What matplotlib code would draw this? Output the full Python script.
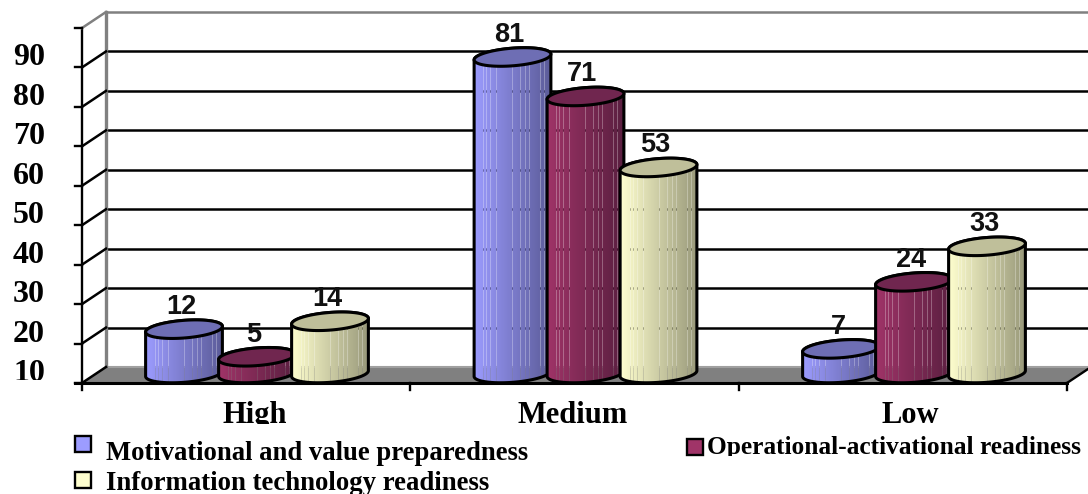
import matplotlib
matplotlib.use('Agg')
import matplotlib.pyplot as plt
import numpy as np
from matplotlib.colors import to_rgb
from matplotlib.patches import Polygon, Rectangle
from matplotlib.transforms import Bbox

categories = ['High', 'Medium', 'Low']
series_names = ['Motivational and value preparedness',
                'Operational-activational readiness',
                'Information technology readiness']
motivational = [12, 81, 7]
operational = [5, 71, 24]
information = [14, 53, 33]
axis_ticks = [0, 10, 20, 30, 40, 50, 60, 70, 80, 90]
tick_labels = ['10', '20', '30', '40', '50', '60', '70', '80', '90']

W, H = 1088, 494
SERIF = 'Liberation Serif'
SANS = 'Liberation Sans'

# scale: pixels per value unit and per category, zero line and first category
PX_Y = 355 / 90
PX_X = 328.5
Y0 = 383
X0 = 257

# colours per series: left of the body, right of the body, top cap
colors = [('#9c9cff', '#5c5c99', '#6e6eb4'),
          ('#a03468', '#5a1f40', '#70264f'),
          ('#ffffcf', '#99997a', '#bfbf9a')]
stripes = [.13, .17, .22, .30, .50, .61, .67, .73, .86, .92]

fig = plt.figure(figsize=(W / 100, H / 100), dpi=100)
ax = fig.add_axes([0, 0, 1, 1])
ax.set_xlim(-X0 / PX_X, (W - X0) / PX_X)
ax.set_ylim((Y0 - H) / PX_Y, Y0 / PX_Y)
ax.axis('off')


def dx(px):
    return px / PX_X


def dy(px):
    return px / PX_Y


def clip_below(txt, py):
    # cut a label off at a horizontal pixel row
    txt.set_clip_box(Bbox([[0, H - py], [W, H]]))
    txt.set_clip_on(True)


# front axis, back wall and floor
x_front = dx(82 - X0)
x_wall = dx(106 - X0)
x_end = dx(1067 - X0)
x_over = dx(1091 - X0)
depth = dy(16)
top = axis_ticks[-1]
ax.add_patch(Polygon([(x_front, 0), (x_wall, depth), (x_over, depth), (x_end, 0)],
                     closed=True, fc='#808080', ec='none', zorder=1))
ax.plot([x_wall, x_over], [depth, depth], color='#a0a0a0', lw=1.5, zorder=1)
ax.plot([x_wall, x_wall], [depth, top + depth], color='#808080', lw=2.4, zorder=1.5)
ax.plot([x_front, x_front], [0, top], color='black', lw=1.7, zorder=2)
for t in axis_ticks:
    c = '#808080' if t == top else 'black'
    if t > 0:
        ax.plot([x_wall, x_over], [t + depth, t + depth], color=c, lw=1.8, zorder=1)
    ax.plot([x_front, x_wall], [t, t + depth], color=c, lw=1.8, zorder=2)
    ax.plot([x_front - dx(7), x_front], [t, t], color='black', lw=1.7, zorder=2)
ax.plot([x_front - dx(7), x_end], [0, 0], color='black', lw=2.2, zorder=6)
ax.plot([x_end, x_over], [0, depth], color='black', lw=1.7, zorder=2)
for i in range(4):
    x = x_front + i * (x_end - x_front) / 3
    ax.plot([x, x], [0, -dy(7)], color='black', lw=1.7, zorder=2)

for t, lab in zip(axis_ticks, tick_labels):
    txt = ax.text(dx(45 - X0), t + dy(9.5), lab, family=SERIF, weight='bold', fontsize=23,
                  ha='right', va='center', zorder=8)
    if lab == '10':
        clip_below(txt, 380)


def ellipse(xc, yc, t):
    # tilted cap outline, returned in data units
    a, b, tilt = 38.5, 8.8, np.radians(4.5)
    ex = a * np.cos(t) * np.cos(tilt) - b * np.sin(t) * np.sin(tilt)
    ey = a * np.cos(t) * np.sin(tilt) + b * np.sin(t) * np.cos(tilt)
    return xc + dx(ex), yc + dy(ey)


def body_image(left, right):
    # horizontal shading; the stripe columns are partly see-through
    n = 78
    c1, c2 = np.array(to_rgb(left)), np.array(to_rgb(right))
    f = np.linspace(0, 1, n)[:, None]
    rgba = np.ones((1, n, 4))
    rgba[0, :, :3] = c1 * (1 - f) + c2 * f
    for s in stripes:
        rgba[0, int(s * n), 3] = 0.72
    return rgba


def cylinder(xc, value, cols, z):
    left, right, cap = cols
    cap_y = value + dy(6.5)
    base = dy(9.5)
    t_top = np.linspace(0, np.pi, 60)
    t_low = np.linspace(np.pi, 2 * np.pi, 60)
    xb, yb = ellipse(xc, base, t_low)
    xt, yt = ellipse(xc, cap_y, t_top)
    outline = np.column_stack([np.r_[xb, xt], np.r_[yb, yt]])
    body = Polygon(outline, closed=True, fc='none', ec='black', lw=2.2, zorder=z + 0.2)
    ax.add_patch(body)
    im = ax.imshow(body_image(left, right), aspect='auto', interpolation='nearest',
                   extent=[xc - dx(39), xc + dx(39), base - dy(10), cap_y + dy(10)], zorder=z)
    im.set_clip_path(body)
    tt = np.linspace(0, 2 * np.pi, 120)
    xe, ye = ellipse(xc, cap_y, tt)
    ax.add_patch(Polygon(np.column_stack([xe, ye]), closed=True, fc=cap, ec='black',
                         lw=2.2, zorder=z + 0.3))
    ax.text(xc - dx(3), cap_y + dy(22), str(value), family=SANS, weight='bold', fontsize=19.5,
            ha='center', va='center', zorder=8, color='#111111')


all_series = [motivational, operational, information]
for g in range(len(categories)):
    for s, vals in enumerate(all_series):
        cylinder(g + (s - 1) * dx(73), vals[g], colors[s], 3 + s)
ax.set_xlim(-X0 / PX_X, (W - X0) / PX_X)
ax.set_ylim((Y0 - H) / PX_Y, Y0 / PX_Y)


def fx(px):
    return px / W


def fy(py):
    return 1 - py / H


# category names
for name, px in zip(categories, [254.5, 573, 910]):
    txt = fig.text(fx(px), fy(415), name, family=SERIF, weight='bold', fontsize=22,
                   ha='center', va='center')
    clip_below(txt, 424)

# legend
legend = [(0, 106, 453, 74, 435, 19.2), (1, 707, 447, 686, 438, 18.3), (2, 106, 483, 74, 471, 19.3)]
for s, tx, ty, bx, by, size in legend:
    txt = fig.text(fx(tx), fy(ty), series_names[s], family=SERIF, weight='bold', fontsize=size,
                   ha='left', va='center')
    if s == 1:
        clip_below(txt, 456)
    fig.add_artist(Rectangle((fx(bx + 1), fy(by + 17)), 16 / W, 16 / H, transform=fig.transFigure,
                             fc=colors[s][0], ec='black', lw=1.7))

fig.savefig('out.png', dpi=100)
